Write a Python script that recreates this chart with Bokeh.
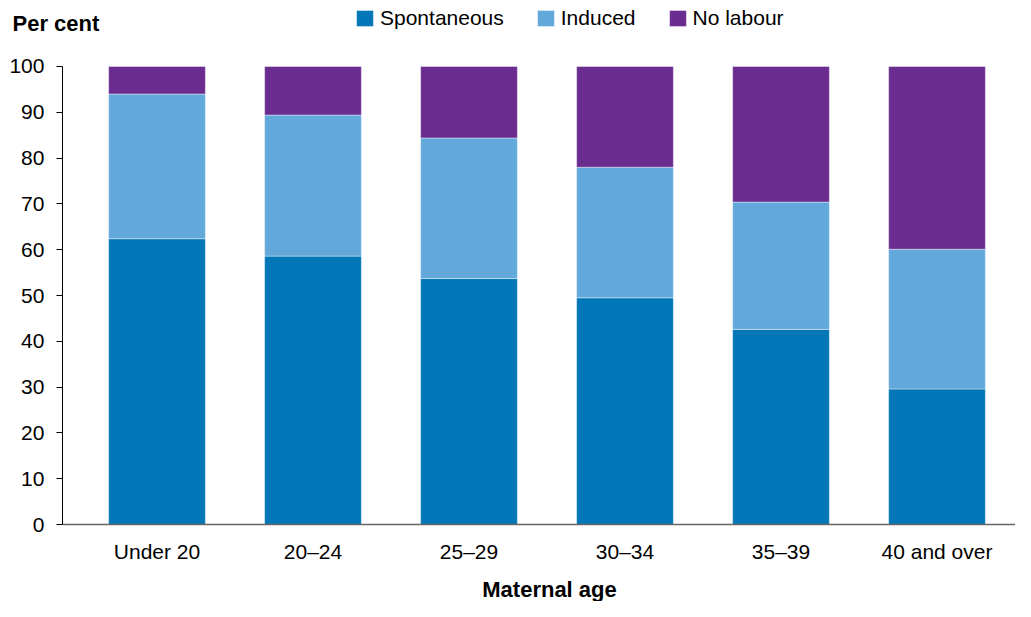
from bokeh.plotting import figure
from bokeh.models import (Range1d, FixedTicker, Legend, LegendItem, Label,
                          ColumnDataSource)
from bokeh.embed import file_html
from bokeh.resources import INLINE

categories = ["Under 20", "20\u201324", "25\u201329", "30\u201334", "35\u201339", "40 and over"]
spontaneous = [62.4, 58.6, 53.7, 49.5, 42.6, 29.6]
induced = [31.6, 30.8, 30.7, 28.5, 27.8, 30.5]
no_labour = [6.0, 10.6, 15.6, 22.0, 29.6, 39.9]

series_names = ["Spontaneous", "Induced", "No labour"]
colors = ["#0177B7", "#62A8DB", "#6A2C8E"]
y_ticks = [0, 10, 20, 30, 40, 50, 60, 70, 80, 90, 100]

FONT = "Liberation Sans"

xs = list(range(len(categories)))
source = ColumnDataSource(dict(x=xs, Spontaneous=spontaneous,
                               Induced=induced, **{"No labour": no_labour}))

X_START, X_END, X_AXIS_AT = -1.0032, 5.5032, -0.606
Y_START, Y_END = -16.81, 114.41

p = figure(width=1015, height=601, title=None,
           x_range=Range1d(X_START, X_END), y_range=Range1d(Y_START, Y_END),
           output_backend="svg", toolbar_location=None,
           min_border_left=0, min_border_right=0,
           min_border_top=0, min_border_bottom=0)

renderers = p.vbar_stack(series_names, x="x", width=0.62, source=source,
                         fill_color=colors, line_color="white",
                         line_alpha=0.4, line_width=1)

legend = Legend(items=[LegendItem(label=n, renderers=[r])
                       for n, r in zip(series_names, renderers)],
                orientation="horizontal", location=(354, 571),
                padding=0, margin=0, spacing=31,
                glyph_width=21, glyph_height=20, label_height=20,
                label_standoff=5,
                label_text_font=FONT, label_text_font_size="21px",
                label_text_color="#000000",
                border_line_color=None, background_fill_alpha=0)
p.add_layout(legend)

p.add_layout(Label(x=12, y=578, x_units="screen", y_units="screen",
                   text="Per cent", text_font=FONT, text_font_size="22px",
                   text_font_style="bold", text_color="#000000",
                   text_baseline="alphabetic"))

p.add_layout(Label(x=549, y=12, x_units="screen", y_units="screen",
                   text="Maternal age", text_font=FONT, text_font_size="22px",
                   text_font_style="bold", text_color="#000000",
                   text_align="center", text_baseline="alphabetic"))

p.xgrid.visible = False
p.ygrid.visible = False
p.outline_line_color = None

xa = p.xaxis[0]
xa.fixed_location = 0
xa.ticker = FixedTicker(ticks=xs)
xa.bounds = (X_AXIS_AT, X_END)
xa.major_label_overrides = {float(i): c for i, c in zip(xs, categories)}
xa.major_tick_line_color = None
xa.minor_tick_line_color = None
xa.axis_line_color = "#666666"
xa.axis_line_width = 1.5
xa.major_label_standoff = 9
xa.major_label_text_font = FONT
xa.major_label_text_font_size = "21px"
xa.major_label_text_color = "#000000"

ya = p.yaxis[0]
ya.fixed_location = X_AXIS_AT
ya.ticker = FixedTicker(ticks=y_ticks)
ya.bounds = (0, 100)
ya.minor_tick_line_color = None
ya.major_tick_out = 6
ya.major_tick_in = 0
ya.major_tick_line_color = "#000000"
ya.axis_line_color = "#000000"
ya.major_label_standoff = 12
ya.major_label_text_font = FONT
ya.major_label_text_font_size = "21px"
ya.major_label_text_color = "#000000"

open("out.html", "w").write(file_html(p, INLINE))
